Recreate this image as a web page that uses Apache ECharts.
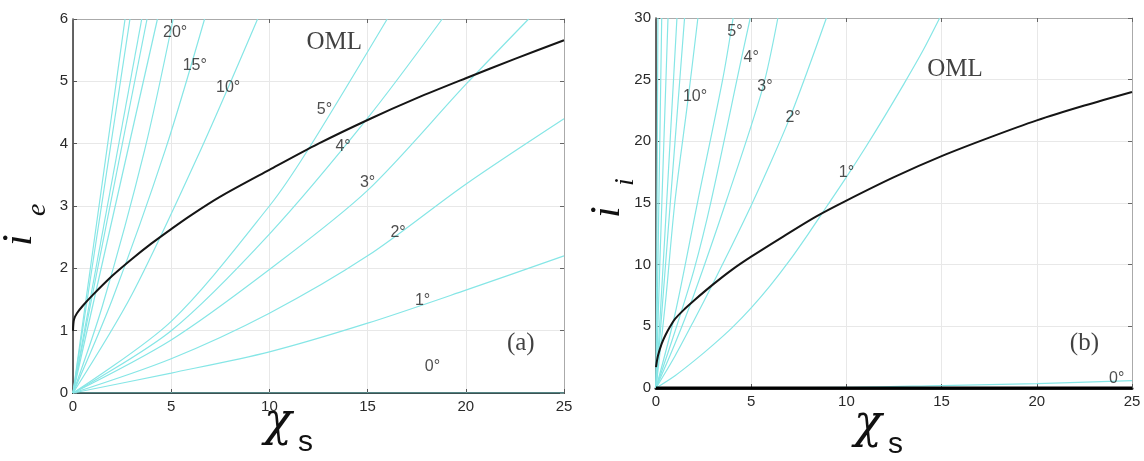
<!DOCTYPE html>
<html><head><meta charset="utf-8">
<script src="https://cdn.jsdelivr.net/npm/echarts@6/dist/echarts.min.js"></script>
<style>html,body{margin:0;background:#fff}#c{width:1144px;height:461px}</style>
</head><body><div id="c"></div>
<script>
// ---------- data ----------
const xTicks = [0, 5, 10, 15, 20, 25];
const aYTicks = [0, 1, 2, 3, 4, 5, 6];
const bYTicks = [0, 5, 10, 15, 20, 25, 30];

// panel (a): i_e vs chi_s
const aOML = [[0,1.0],[0.05,1.18],[0.2,1.28],[0.5,1.4],[1,1.57],[2,1.88],[3,2.15],[4,2.4],[5,2.63],[6,2.85],[7.5,3.15],[10,3.58],[12.5,4.0],[15,4.38],[17.5,4.73],[20,5.05],[22.5,5.36],[25,5.66]];
const aDeg0  = [[0,0],[25,0]];
const aDeg1  = [[0,0],[5,0.32],[10,0.66],[15,1.12],[20,1.65],[25,2.2]];
const aDeg2  = [[0,0],[5,0.55],[10,1.28],[15,2.2],[20,3.35],[25,4.4]];
const aDeg3  = [[0,0],[5,0.85],[10,1.98],[15,3.25],[20,4.95],[23.2,6]];
const aDeg4  = [[0,0],[5,1.0],[10,2.55],[15,4.41],[18.8,6]];
const aDeg5  = [[0,0],[5,1.15],[10,3.0],[11.9,3.87],[16,6]];
const aDeg10 = [[0,0],[3,1.58],[6.5,3.9],[9.4,6]];
const aDeg15 = [[0,0],[2,1.5],[4.7,3.9],[6.7,6]];
const aDeg20 = [[0,0],[1.5,1.4],[3.65,3.9],[5.1,6]];
const aSteep1 = [[0,0],[4.3,6]];
const aSteep2 = [[0,0],[3.77,6]];
const aSteep3 = [[0,0],[3.5,6]];
const aSteep4 = [[0,0],[2.9,6]];
const aSteep5 = [[0,0],[2.65,6]];
const aLabels = [[5.2,5.78,'20°'],[6.2,5.25,'15°'],[7.9,4.9,'10°'],[12.8,4.54,'5°'],[13.75,3.95,'4°'],[15.0,3.37,'3°'],[16.55,2.57,'2°'],[17.8,1.49,'1°'],[18.3,0.42,'0°']];
const aTexts = [[13.3,5.62,'OML'],[22.8,0.8,'(a)']];

// panel (b): i_i vs chi_s
const bOML = [[0,1.7],[0.1,2.6],[0.3,3.6],[0.5,4.3],[0.75,5.0],[1,5.6],[1.5,6.4],[2,7.1],[3,8.4],[4,9.6],[5,10.65],[6.7,12.3],[8.4,13.9],[10,15.2],[12.5,17.1],[15,18.8],[17.5,20.3],[20,21.7],[22.5,22.9],[25,24.0]];
const bAxis0 = [[0,0],[25,0]];
const bDeg0  = [[0,0],[10,0.05],[15,0.2],[20,0.35],[25,0.6]];
const bDeg1  = [[0,0],[1,1.0],[2,2.2],[3,3.5],[4,4.9],[5,6.5],[6,8.3],[7,10.3],[8,12.5],[9,14.8],[10,17.1],[11,19.5],[12,22],[13,24.6],[14,27.3],[14.9,30]];
const bDeg2  = [[0,0],[1,2.6],[2,5.5],[3,8.5],[4,11.6],[5,14.8],[6,18.2],[7,21.8],[8,25.9],[8.95,30]];
const bDeg3  = [[0,0],[1,3.6],[2,7.6],[3.7,15.2],[5.6,24.3],[6.4,30]];
const bDeg4  = [[0,0],[1,4.6],[2,9.6],[2.9,15.2],[4.5,26.8],[4.95,30]];
const bDeg5  = [[0,0],[1,6],[2.2,15.2],[3.5,25],[4.05,30]];
const bDeg10 = [[0,0],[0.5,7],[1.0,15.2],[1.7,23.6],[2.2,30]];
const bSteep1 = [[0,0],[0.6,12],[1.5,30]];
const bSteep2 = [[0,0],[0.45,12],[1.1,30]];
const bSteep3 = [[0,0],[0.2,10],[0.63,30]];
const bSteep4 = [[0,0],[0.1,10],[0.3,30]];
const bSteep5 = [[0,0],[0.04,10],[0.1,30]];
const bLabels = [[4.15,28.9,'5°'],[5.0,26.8,'4°'],[5.72,24.4,'3°'],[7.2,21.9,'2°'],[10.0,17.5,'1°'],[2.05,23.6,'10°'],[24.2,0.8,'0°']];
const bTexts = [[15.7,25.8,'OML'],[22.5,3.6,'(b)']];

// ---------- chart ----------
const CYAN = '#86e6e6';
const chart = echarts.init(document.getElementById('c'), null, {renderer: 'canvas'});

function xAxes(gi) {
  return [
    {type:'value', gridIndex:gi, position:'bottom', min:0, max:25, interval:5,
     axisLine:{show:true, onZero:false, lineStyle:{color:'#222', width: gi===1?3:2}},
     axisTick:{show:true, inside:true, length:4, lineStyle:{color:'#555'}},
     axisLabel:{color:'#2a2a2a', fontSize:15, fontFamily:'Liberation Sans, Arial', margin:6},
     splitLine:{show:true, lineStyle:{color:'#e8e8e8', width:1}}},
    {type:'value', gridIndex:gi, position:'top', min:0, max:25, interval:5,
     axisLine:{show:true, onZero:false, lineStyle:{color:'#aaa', width:1}},
     axisTick:{show:true, inside:true, length:4, lineStyle:{color:'#666'}},
     axisLabel:{show:false}, splitLine:{show:false}}
  ];
}
function yAxes(gi, max, interval) {
  return [
    {type:'value', gridIndex:gi, position:'left', min:0, max:max, interval:interval,
     axisLine:{show:true, onZero:false, lineStyle:{color:'#333', width:1.5}},
     axisTick:{show:true, inside:true, length:4, lineStyle:{color:'#555'}},
     axisLabel:{color:'#2a2a2a', fontSize:15, fontFamily:'Liberation Sans, Arial', margin:5},
     splitLine:{show:true, lineStyle:{color:'#e8e8e8', width:1}}},
    {type:'value', gridIndex:gi, position:'right', min:0, max:max, interval:interval,
     axisLine:{show:true, onZero:false, lineStyle:{color:'#aaa', width:1}},
     axisTick:{show:true, inside:true, length:4, lineStyle:{color:'#666'}},
     axisLabel:{show:false}, splitLine:{show:false}}
  ];
}

function line(data, xi, yi, color, width, z) {
  return {type:'line', data:data, xAxisIndex:xi, yAxisIndex:yi, showSymbol:false, symbol:'none',
          smooth:0.3, clip:true, lineStyle:{color:color, width:width}, z:z||2, silent:true, animation:false};
}
function labels(data, xi, yi, size, family, color) {
  return {type:'scatter', data:data, xAxisIndex:xi, yAxisIndex:yi, symbolSize:0, z:10, silent:true, animation:false,
          label:{show:true, position:'inside', formatter:p=>p.data[2], color:color, fontSize:size, fontFamily:family}};
}

const aCyan = [aDeg0,aDeg1,aDeg2,aDeg3,aDeg4,aDeg5,aDeg10,aDeg15,aDeg20,aSteep1,aSteep2,aSteep3,aSteep4,aSteep5];
const bCyan = [bDeg0,bDeg1,bDeg2,bDeg3,bDeg4,bDeg5,bDeg10,bSteep1,bSteep2,bSteep3,bSteep4,bSteep5];

const series = [];
aCyan.forEach(d => series.push(line(d, 0, 0, CYAN, 1.2)));
series.push(line(aOML, 0, 0, '#151515', 2, 5));
bCyan.forEach(d => series.push(line(d, 2, 2, CYAN, 1.2)));
series.push(line(bOML, 2, 2, '#151515', 2, 5));
series.push(line(bAxis0, 2, 2, '#000', 3, 6));
series.push(labels(aLabels, 0, 0, 16, 'Liberation Sans, Arial', '#222'));
series.push(labels(aTexts, 0, 0, 25, 'Liberation Serif, Times New Roman', '#111'));
series.push(labels(bLabels, 2, 2, 16, 'Liberation Sans, Arial', '#222'));
series.push(labels(bTexts, 2, 2, 25, 'Liberation Serif, Times New Roman', '#111'));

const mainF = 'italic 42px "Liberation Serif", "Times New Roman", serif';
const subF = 'italic 28px "Liberation Serif", "Times New Roman", serif';
const chiF = 'italic 46px "DejaVu Serif", serif';
const sF = '30px "Liberation Sans", Arial, sans-serif';
chart.setOption({
  animation:false,
  backgroundColor:'#fff',
  grid:[
    {left:73, top:19, width:491, height:374},
    {left:656, top:18, width:476, height:370}
  ],
  xAxis:[...xAxes(0), ...xAxes(1)],
  yAxis:[...yAxes(0,6,1), ...yAxes(1,30,5)],
  series:series,
  graphic:[
    // y title (a): i_e rotated
    {type:'group', x:20, y:246, rotation:Math.PI/2, children:[
      {type:'text', x:0, y:0, style:{text:'i', font:mainF, fill:'#111', textAlign:'left', textVerticalAlign:'middle'}},
      {type:'text', x:30, y:18, style:{text:'e', font:subF, fill:'#111', textAlign:'left', textVerticalAlign:'middle'}}
    ]},
    // y title (b): i_i rotated
    {type:'group', x:608, y:218, rotation:Math.PI/2, children:[
      {type:'text', x:0, y:0, style:{text:'i', font:mainF, fill:'#111', textAlign:'left', textVerticalAlign:'middle'}},
      {type:'text', x:32, y:18, style:{text:'i', font:subF, fill:'#111', textAlign:'left', textVerticalAlign:'middle'}}
    ]},
    // x title (a)
    {type:'text', left:264, top:400, style:{text:'χ', font:chiF, fill:'#111'}},
    {type:'text', left:298, top:428, style:{text:'s', font:sF, fill:'#111'}},
    // x title (b)
    {type:'text', left:854, top:402, style:{text:'χ', font:chiF, fill:'#111'}},
    {type:'text', left:888, top:430, style:{text:'s', font:sF, fill:'#111'}}
  ]
});
</script></body></html>
